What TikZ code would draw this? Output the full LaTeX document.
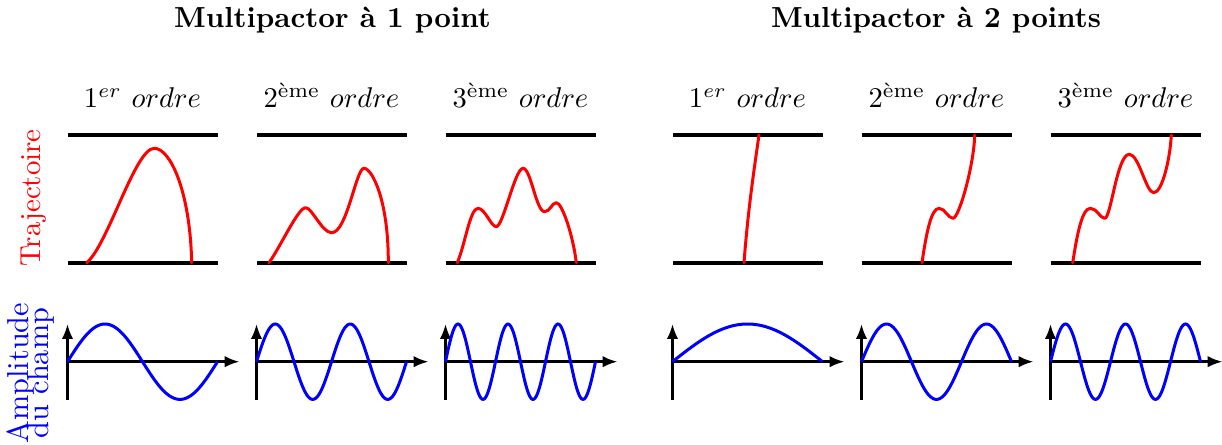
\documentclass[tikz,border=0pt]{standalone}
\usepackage{amsmath}
\usetikzlibrary{arrows.meta}
\begin{document}
\begin{tikzpicture}[x=0.35pt,y=-0.35pt,
  plate/.style={line width=1.4pt},
  traj/.style={red,line width=1.05pt,line cap=round,line join=round},
  field/.style={blue,line width=1.05pt},
  axis/.style={line width=0.9pt,-{Latex[length=5.2pt,width=4pt]}},
  title/.style={font=\fontsize{10.15}{13}\selectfont\bfseries,anchor=base},
  order/.style={font=\fontsize{10.4}{12}\selectfont,anchor=base},
  side/.style={rotate=90,align=center}]
\useasboundingbox (0,0) rectangle (1222,445);

\node[title] (t1) at (332.5,28) {Multipactor à 1 point};
\node[title] (t2) at (936,28) {Multipactor à 2 points};

\node[order] (o1) at (142.5,108) {$1^{er}$ $ordre$};
\node[order] (o2) at (331.5,108) {$2^{\text{ème}}$ $ordre$};
\node[order] (o3) at (520.5,108) {$3^{\text{ème}}$ $ordre$};
\node[order] (o4) at (747.5,108) {$1^{er}$ $ordre$};
\node[order] (o5) at (936.5,108) {$2^{\text{ème}}$ $ordre$};
\node[order] (o6) at (1125.5,108) {$3^{\text{ème}}$ $ordre$};

\node[side,red,font=\fontsize{10.1}{11}\selectfont] (traj) at (34,198) {Trajectoire};
\node[side,blue,font=\fontsize{10.6}{10}\selectfont] (amp) at (31,373) {Amplitude\\[-3pt]du champ};

% plates and axes
\foreach \x in {67.5,256.5,445.5,672.5,861.5,1050.5}{
  \draw[plate] (\x,135) -- ++(150,0);
  \draw[plate] (\x,262.7) -- ++(150,0);
  \draw[axis] (\x,399.5) -- (\x,324);
  \draw[axis] (\x,361.7) -- ++(172,0);
}

% field curves
\foreach \x/\k in {67.5/2.4,256.5/4.8,445.5/7.2,672.5/1.2,861.5/3.6,1050.5/6.0}{
  \draw[field] plot[domain=0:150,samples=120,variable=\t] ({\x+\t},{361.7-37.7*sin(\t*\k)});
}

% trajectories
\draw[traj] (86.7,262.7) .. controls (108,245) and (135,148.3) .. (154.3,148.3)
  .. controls (170,148.3) and (190,190) .. (191.7,262.7);
\draw[traj] (269,262.7) .. controls (281,246) and (298,207.7) .. (305.7,207.7)
  .. controls (312,207.7) and (322,232.7) .. (331.7,232.7)
  .. controls (347,232.7) and (356,168.3) .. (364,168.3)
  .. controls (372,168.3) and (388.5,200) .. (388.3,262.7);
\draw[traj] (457.3,262.7) .. controls (465,245) and (470,208.3) .. (478,208.3)
  .. controls (485,208.3) and (491,226.7) .. (496.3,226.7)
  .. controls (503,226.7) and (515,168.3) .. (523,168.3)
  .. controls (531,168.3) and (536,211.7) .. (544.7,211.7)
  .. controls (550,211.7) and (552,202.7) .. (556.3,202.7)
  .. controls (562,202.7) and (573,235) .. (576.3,262.7);
\draw[traj] (744,262.7) .. controls (748,210) and (754,170) .. (759,135);
\draw[traj] (922,262.7) .. controls (926,235) and (931,208.3) .. (939,208.3)
  .. controls (945,208.3) and (948,218.3) .. (953,218.3)
  .. controls (959,218.3) and (974,165) .. (974.7,135);
\draw[traj] (1072.7,262.7) .. controls (1077,235) and (1082,208.3) .. (1090.3,208.3)
  .. controls (1097,208.3) and (1100,218.3) .. (1104.7,218.3)
  .. controls (1111,218.3) and (1117,154.3) .. (1129.3,154.3)
  .. controls (1139,154.3) and (1146,192.7) .. (1153.7,192.7)
  .. controls (1162,192.7) and (1170,160) .. (1171.3,135);
\end{tikzpicture}
\end{document}
